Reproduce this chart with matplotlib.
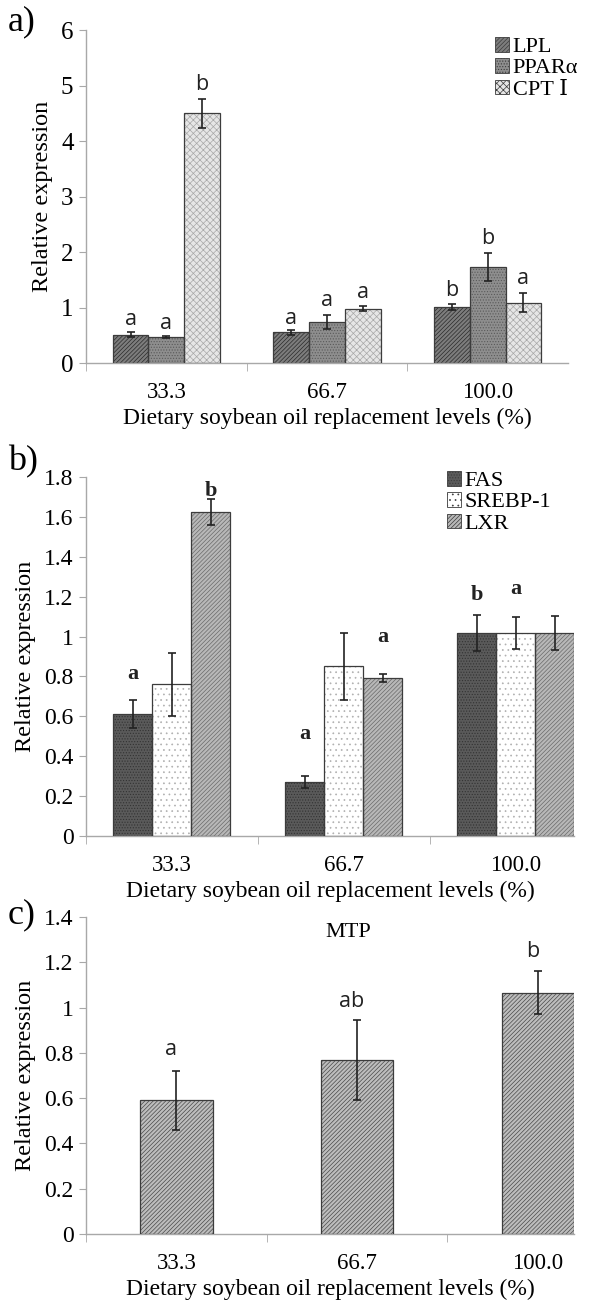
import numpy as np
import matplotlib
matplotlib.use("Agg")
import matplotlib.pyplot as plt
from matplotlib.patches import Patch

plt.rcParams['font.family'] = ['Liberation Serif', 'DejaVu Serif']
plt.rcParams['hatch.linewidth'] = 0.5

W, H = 616, 1303
levels = ['33.3', '66.7', '100.0']
xlab = 'Dietary soybean oil replacement levels (%)'
ylab = 'Relative expression'

# --- panel a ---
a_names = ['LPL', 'PPAR\u03b1', 'CPT \u2160']
a_vals = [[0.51, 0.55, 1.01], [0.47, 0.74, 1.73], [4.50, 0.98, 1.09]]
a_errs = [[0.05, 0.04, 0.06], [0.02, 0.13, 0.26], [0.26, 0.04, 0.18]]
a_letters = [['a', 'a', 'b'], ['a', 'a', 'b'], ['b', 'a', 'a']]
a_letter_y = [[0.60, 0.62, 1.12], [0.53, 0.93, 2.05], [4.82, 1.08, 1.33]]

# --- panel b ---
b_names = ['FAS', 'SREBP-1', 'LXR']
b_vals = [[0.61, 0.27, 1.02], [0.76, 0.85, 1.02], [1.625, 0.79, 1.02]]
b_errs = [[0.07, 0.03, 0.09], [0.16, 0.17, 0.08], [0.065, 0.02, 0.085]]
b_letters = [['a', 'a', 'b'], ['', '', 'a'], ['b', 'a', '']]
b_letter_y = [[0.76, 0.46, 1.16], [0, 0, 1.19], [1.68, 0.95, 0]]

# --- panel c ---
c_name = 'MTP'
c_vals = [0.59, 0.767, 1.065]
c_errs = [0.132, 0.177, 0.095]
c_letters = ['a', 'ab', 'b']
c_letter_y = [0.77, 0.98, 1.2]

a_style = [dict(fc='#7d7d7d', hc='#2a2a2a', hatch='////////'),
           dict(fc='#8e8e8e', hc='#5a5a5a', hatch='......'),
           dict(fc='#e6e6e6', hc='#a8a8a8', hatch='xxxxx')]
b_style = [dict(fc='#5a5a5a', hc='#333333', hatch='......'),
           dict(fc='#ffffff', hc='#b0b0b0', hatch='...'),
           dict(fc='#b8b8b8', hc='#6a6a6a', hatch='////////')]
c_style = dict(fc='#bdbdbd', hc='#4a4a4a', hatch='////////')


def px_axes(fig, left, right, top, bottom):
    return fig.add_axes([left / W, 1 - bottom / H, (right - left) / W, (bottom - top) / H])


def hatched_bar(ax, x, h, width, st):
    ax.bar(x, h, width, color=st['fc'], edgecolor=st['hc'], hatch=st['hatch'], linewidth=0, zorder=2)
    ax.bar(x, h, width, fill=False, edgecolor='#3c3c3c', linewidth=0.9, zorder=3)


def style_axes(ax, ymax, ystep, xmax, fmt):
    for s in ['top', 'right']:
        ax.spines[s].set_visible(False)
    for s in ['left', 'bottom']:
        ax.spines[s].set_color('#a8a8a8')
        ax.spines[s].set_linewidth(1.0)
    ax.set_ylim(0, ymax)
    ax.set_xlim(-0.5, xmax)
    yt = np.arange(0, ymax + ystep / 2, ystep)
    ax.set_yticks(yt)
    ax.set_yticklabels([fmt(v) for v in yt], fontsize=17)
    ax.set_xticks(range(3))
    ax.set_xticklabels(levels, fontsize=16.5)
    ax.set_xticks([-0.5, 0.5, 1.5], minor=True)
    ax.tick_params(axis='x', which='major', length=0, pad=14)
    ax.tick_params(axis='x', which='minor', length=6, color='#a8a8a8', direction='out')
    ax.tick_params(axis='y', length=5, color='#a8a8a8', direction='out', pad=4)
    ax.set_xlabel(xlab, fontsize=17, labelpad=3)
    ax.set_ylabel(ylab, fontsize=17.5, labelpad=6)


def fmt_int(v):
    return '%d' % round(v)


def fmt_dec(v):
    r = round(v, 1)
    if abs(r - round(r)) < 1e-9:
        return '%d' % round(r)
    return ('%.1f' % r)


fig = plt.figure(figsize=(W / 100, H / 100), dpi=100)
x = np.arange(3)

# ---------- a ----------
ax = px_axes(fig, 86, 568, 30, 363)
bw = 0.223
for i in range(3):
    pos = x + (i - 1) * bw
    hatched_bar(ax, pos, a_vals[i], bw, a_style[i])
    ax.errorbar(pos, a_vals[i], yerr=a_errs[i], fmt='none', ecolor='#222222',
                elinewidth=1.2, capsize=3, capthick=1.2, zorder=4)
    for j in range(3):
        ax.text(pos[j], a_letter_y[i][j], a_letters[i][j], ha='center', va='bottom',
                fontsize=15.5, family=['Open Sans', 'DejaVu Sans'], color='#222222')
style_axes(ax, 6, 1, 2.5, fmt_int)
ax.yaxis.set_ticklabels([fmt_int(v) for v in range(7)], fontsize=18)
handles = [Patch(facecolor=s['fc'], edgecolor='#3c3c3c', hatch=s['hatch'], linewidth=0.6)
           for s in a_style]
fig.legend(handles, a_names, loc='upper left', bbox_to_anchor=(486 / W, 1 - 28 / H),
           frameon=False, fontsize=16, handlelength=0.65, handleheight=0.65,
           handletextpad=0.15, labelspacing=0.05, borderaxespad=0)
fig.text(8 / W, 1 - 22 / H, 'a)', fontsize=26, va='center', ha='left')

# ---------- b ----------
ax = px_axes(fig, 86, 574, 477, 836)
bw = 0.227
for i in range(3):
    pos = x + (i - 1) * bw
    hatched_bar(ax, pos, b_vals[i], bw, b_style[i])
    ax.errorbar(pos, b_vals[i], yerr=b_errs[i], fmt='none', ecolor='#222222',
                elinewidth=1.2, capsize=3, capthick=1.2, zorder=4)
    for j in range(3):
        if b_letters[i][j]:
            ax.text(pos[j], b_letter_y[i][j], b_letters[i][j], ha='center', va='bottom',
                    fontsize=16, fontweight='bold', color='#222222')
style_axes(ax, 1.8, 0.2, 2 + 1.5 * bw, fmt_dec)
handles = [Patch(facecolor=s['fc'], edgecolor='#3c3c3c', hatch=s['hatch'], linewidth=0.6)
           for s in b_style]
fig.legend(handles, b_names, loc='upper left', bbox_to_anchor=(438 / W, 1 - 462 / H),
           frameon=False, fontsize=16, handlelength=0.65, handleheight=0.65,
           handletextpad=0.15, labelspacing=0.05, borderaxespad=0)
fig.text(8 / W, 1 - 462 / H, 'b)', fontsize=26, va='center', ha='left')

# ---------- c ----------
ax = px_axes(fig, 86, 574, 917, 1234)
bw = 0.40
hatched_bar(ax, x, c_vals, bw, c_style)
ax.errorbar(x, c_vals, yerr=c_errs, fmt='none', ecolor='#222222',
            elinewidth=1.2, capsize=3, capthick=1.2, zorder=4)
for j in range(3):
    ax.text(x[j] - 0.03, c_letter_y[j], c_letters[j], ha='center', va='bottom',
            fontsize=15.5, family=['Open Sans', 'DejaVu Sans'], color='#222222')
style_axes(ax, 1.4, 0.2, 2 + bw / 2, fmt_dec)
ax.text(0.95, 1.33, c_name, ha='center', va='center', fontsize=16)
fig.text(8 / W, 1 - 915 / H, 'c)', fontsize=26, va='center', ha='left')

fig.savefig('out.png', dpi=100)
